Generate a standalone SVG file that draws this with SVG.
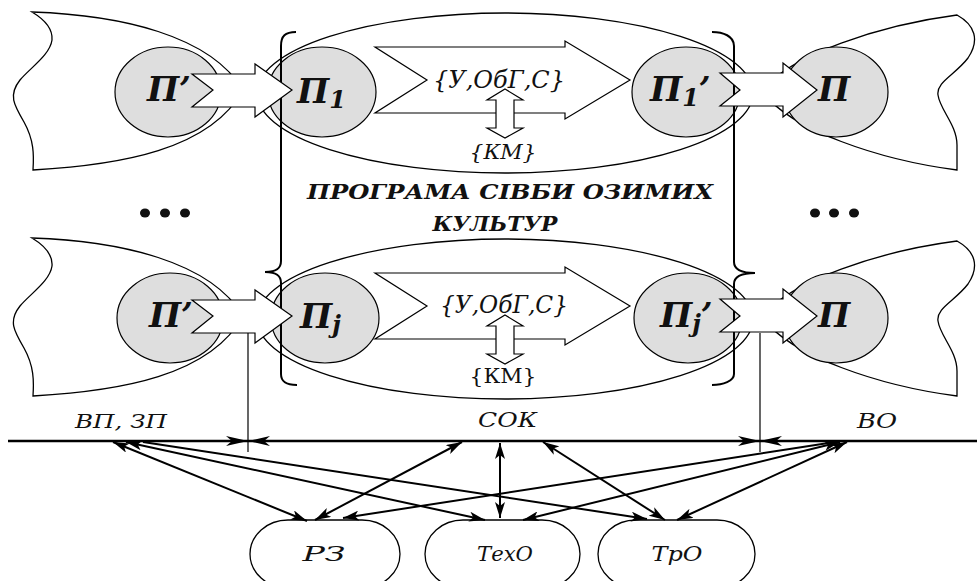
<svg xmlns="http://www.w3.org/2000/svg" width="977" height="581" viewBox="0 0 977 581">
  <defs>
    <style>
      .o{fill:none;stroke:#000;stroke-width:1.3}
      .c{fill:#dedede;stroke:#000;stroke-width:1.2}
      .b{fill:#fff;stroke:#000;stroke-width:1.2}
      .br{fill:none;stroke:#000;stroke-width:2}
      .thin{fill:none;stroke:#000;stroke-width:1.2}
      .cn{fill:none;stroke:#000;stroke-width:2}
      .axis{fill:none;stroke:#000;stroke-width:2.5}
    </style>
    <marker id="ah" viewBox="0 0 16 10" refX="16" refY="5" markerWidth="16" markerHeight="10" markerUnits="userSpaceOnUse" orient="auto-start-reverse">
      <path d="M0,0 L16,5 L0,10 L4,5 Z" fill="#000"/>
    </marker>
    <marker id="dim" viewBox="0 0 22 10" refX="22" refY="5" markerWidth="22" markerHeight="10" markerUnits="userSpaceOnUse" orient="auto">
      <path d="M0,0 L22,5 L0,10 L6,5 Z" fill="#000"/>
    </marker>
    <!-- reusable shapes of one row -->
    <path id="zoneL" d="M32,12 C120,15 210,35 243,90 C210,150 120,165 33,170 C34,155 34,140 24,122 C14,105 8,95 20,80 C30,68 50,55 52,40 C53,28 42,18 32,12 Z"/>
    <path id="zoneR" d="M763,90 C790,55 880,25 957,15 C975,25 980,40 968,58 C955,75 936,82 938,95 C940,110 957,125 957,145 L957,170 C880,160 790,130 763,92 Z"/>
    <path id="arrIn" d="M192,74 L255,74 L255,64 L292,90 L255,117 L255,107 L192,107 L213,90 Z"/>
    <path id="arrOut" d="M720,73 L783,73 L783,63 L817,90 L783,117 L783,106 L720,106 L740,90 Z"/>
    <path id="arrMain" d="M375,47 L565,47 L565,41 L630,80 L565,119 L565,113 L375,113 L427,80 Z"/>
    <path id="arrKM" d="M505,89 L523,100 L514,100 L514,128 L523,128 L505,138 L487,128 L496,128 L496,100 L487,100 Z"/>
  </defs>

  <rect width="977" height="581" fill="#fff"/>

  <!-- first crop row -->
  <g id="row-1">
    <g id="zone-prev-1"><use href="#zoneL" class="o"/></g>
    <g id="zone-next-1"><use href="#zoneR" class="o"/></g>
    <g id="stage-1"><ellipse cx="505" cy="93" rx="248" ry="80" class="o"/></g>
    <g id="p-prev-1"><ellipse cx="168" cy="92" rx="53" ry="45" class="c"/></g>
    <g id="p-1"><ellipse cx="322" cy="92" rx="54" ry="45" class="c"/></g>
    <g id="p-1-out"><ellipse cx="686" cy="92" rx="54" ry="45" class="c"/></g>
    <g id="p-next-1"><ellipse cx="836" cy="92" rx="52" ry="45" class="c"/></g>
  </g>

  <!-- last crop row -->
  <g id="row-j" transform="translate(0,226)">
    <g id="zone-prev-j"><use href="#zoneL" class="o"/></g>
    <g id="zone-next-j"><use href="#zoneR" class="o"/></g>
    <g id="stage-j"><ellipse cx="505" cy="93" rx="248" ry="80" class="o"/></g>
    <g id="p-prev-j"><ellipse cx="170" cy="92" rx="53" ry="45" class="c"/></g>
    <g id="p-j"><ellipse cx="325" cy="92" rx="54" ry="45" class="c"/></g>
    <g id="p-j-out"><ellipse cx="688" cy="92" rx="54" ry="45" class="c"/></g>
    <g id="p-next-j"><ellipse cx="836" cy="92" rx="52" ry="45" class="c"/></g>
  </g>

  <!-- braces of the sowing programme -->
  <g id="programme">
    <path class="br" d="M296,32 C285,32 281,36 281,46 L281,261 C281,268 277,272 265,272 C277,272 281,276 281,283 L281,374 C281,381 285,385 297,385"/>
    <path class="br" d="M712,32 C723,32 734,36 734,46 L734,262 C734,269 740,273 755,273 C740,273 734,277 734,284 L734,374 C734,381 723,385 712,385"/>
    <g font-family="DejaVu Serif, serif" font-weight="bold" font-style="italic" font-size="21" fill="#111" text-anchor="middle">
      <text x="510" y="199" textLength="406" lengthAdjust="spacingAndGlyphs">ПРОГРАМА СІВБИ ОЗИМИХ</text>
      <text x="495" y="231" textLength="125" lengthAdjust="spacingAndGlyphs">КУЛЬТУР</text>
    </g>
  </g>

  <!-- block arrows, first row -->
  <g id="flow-1">
    <use href="#arrIn" class="b"/>
    <use href="#arrOut" class="b"/>
    <use href="#arrMain" class="b"/>
    <use href="#arrKM" class="b"/>
  </g>
  <!-- block arrows, last row -->
  <g id="flow-j" transform="translate(0,226)">
    <use href="#arrIn" class="b"/>
    <use href="#arrOut" class="b"/>
    <use href="#arrMain" class="b"/>
    <use href="#arrKM" class="b"/>
  </g>

  <!-- labels, first row -->
  <g id="labels-1" font-family="DejaVu Serif, serif" fill="#111">
    <g font-weight="bold" font-style="italic" font-size="34">
      <text x="147" y="101">П’</text>
      <text x="297" y="103">П<tspan font-size="24" dy="5">1</tspan></text>
      <text x="650" y="101">П<tspan font-size="24" dy="5">1</tspan><tspan dy="-5">’</tspan></text>
      <text x="818" y="101">П</text>
    </g>
    <text font-style="italic" x="499" y="88" font-size="24" text-anchor="middle" textLength="132" lengthAdjust="spacingAndGlyphs">{У,ОбГ,С}</text>
    <text font-style="italic" x="503" y="159" font-size="20" text-anchor="middle" textLength="67" lengthAdjust="spacingAndGlyphs">{КМ}</text>
  </g>
  <!-- labels, last row -->
  <g id="labels-j" font-family="DejaVu Serif, serif" fill="#111">
    <g font-weight="bold" font-style="italic" font-size="34">
      <text x="149" y="327">П’</text>
      <text x="300" y="328">П<tspan font-size="24" dy="5">j</tspan></text>
      <text x="660" y="327">П<tspan font-size="24" dy="5">j</tspan><tspan dy="-5">’</tspan></text>
      <text x="818" y="327">П</text>
    </g>
    <text font-style="italic" x="504" y="313" font-size="24" text-anchor="middle" textLength="128" lengthAdjust="spacingAndGlyphs">{У,ОбГ,С}</text>
    <text x="503" y="383" font-size="20" text-anchor="middle" textLength="67" lengthAdjust="spacingAndGlyphs">{КМ}</text>
  </g>

  <!-- ellipsis between rows -->
  <g id="more-prev" fill="#111">
    <ellipse cx="145" cy="213" rx="5" ry="4.5"/>
    <ellipse cx="165" cy="213" rx="5" ry="4.5"/>
    <ellipse cx="185" cy="213" rx="5" ry="4.5"/>
  </g>
  <g id="more-next" fill="#111">
    <ellipse cx="815" cy="213" rx="5" ry="4.5"/>
    <ellipse cx="834" cy="213" rx="5" ry="4.5"/>
    <ellipse cx="854" cy="213" rx="5" ry="4.5"/>
  </g>

  <!-- time axis with period labels -->
  <g id="axis">
    <path class="axis" d="M8,441 L977,441"/>
    <path class="thin" d="M248,333 L248,452"/>
    <path class="thin" d="M760,333 L760,452"/>
    <path d="M222,441 L248,441" stroke="none" marker-end="url(#dim)"/>
    <path d="M274,441 L248,441" stroke="none" marker-end="url(#dim)"/>
    <path d="M734,441 L760,441" stroke="none" marker-end="url(#dim)"/>
    <path d="M786,441 L760,441" stroke="none" marker-end="url(#dim)"/>
    <g font-family="DejaVu Serif, serif" font-style="italic" fill="#111">
      <text x="75" y="428" font-size="19" textLength="92" lengthAdjust="spacingAndGlyphs">ВП, ЗП</text>
      <text x="478" y="427" font-size="20" textLength="59" lengthAdjust="spacingAndGlyphs">СОК</text>
      <text x="857" y="428" font-size="20" textLength="40" lengthAdjust="spacingAndGlyphs">ВО</text>
    </g>
  </g>

  <!-- service nodes -->
  <g font-family="DejaVu Serif, serif" font-style="italic" font-size="21" fill="#111" text-anchor="middle">
    <g id="rz">
      <rect x="250" y="520" width="150" height="68" rx="38" ry="34" class="o"/>
      <text x="324" y="561" textLength="43" lengthAdjust="spacingAndGlyphs">РЗ</text>
    </g>
    <g id="texo">
      <rect x="425" y="520" width="155" height="68" rx="38" ry="34" class="o"/>
      <text x="505" y="561" textLength="56" lengthAdjust="spacingAndGlyphs">ТехО</text>
    </g>
    <g id="tpo">
      <rect x="598" y="520" width="157" height="68" rx="38" ry="34" class="o"/>
      <text x="677" y="561" textLength="51" lengthAdjust="spacingAndGlyphs">ТрО</text>
    </g>
  </g>

  <!-- links between periods and services -->
  <g id="connectors" class="cn">
    <path d="M113,442 L307,521" marker-start="url(#ah)" marker-end="url(#ah)"/>
    <path d="M126,442 L485,520" marker-start="url(#ah)" marker-end="url(#ah)"/>
    <path d="M143,442 L647,519" marker-end="url(#ah)"/>
    <path d="M462,442 L315,520" marker-start="url(#ah)" marker-end="url(#ah)"/>
    <path d="M500,443 L500,518" marker-start="url(#ah)" marker-end="url(#ah)"/>
    <path d="M543,442 L665,520" marker-start="url(#ah)" marker-end="url(#ah)"/>
    <path d="M847,442 L677,520" marker-start="url(#ah)" marker-end="url(#ah)"/>
    <path d="M840,442 L523,520" marker-start="url(#ah)" marker-end="url(#ah)"/>
    <path d="M835,442 L343,518" marker-end="url(#ah)"/>
  </g>
</svg>
